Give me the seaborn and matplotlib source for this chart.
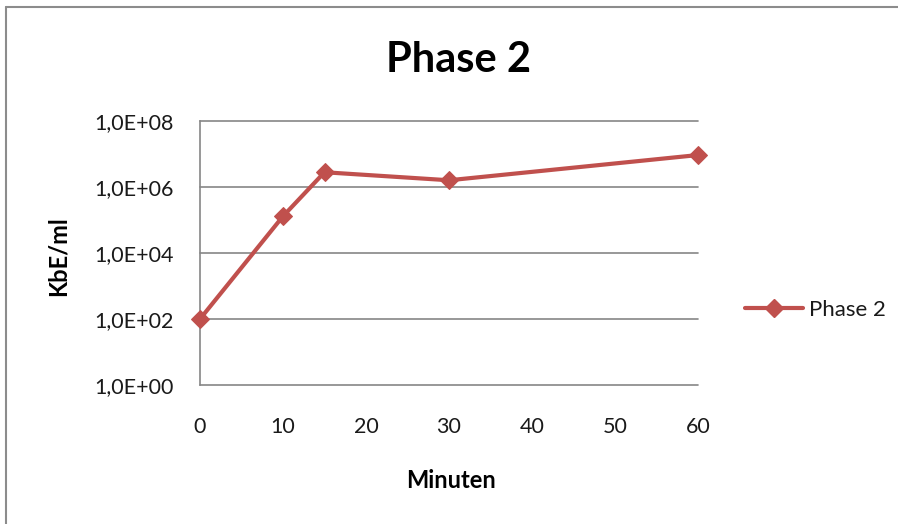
import matplotlib
matplotlib.use("Agg")
import matplotlib.pyplot as plt
import matplotlib.ticker as mticker
from matplotlib.lines import Line2D
import seaborn as sns
import pandas as pd

# Bacterial counts (colony-forming units per ml) over time, phase 2
minutes = [0, 10, 15, 30, 60]
kbe_per_ml = [1.0e2, 1.3e5, 2.8e6, 1.6e6, 9.3e6]
series_name = "Phase 2"
y_ticks = [1e0, 1e2, 1e4, 1e6, 1e8]
x_ticks = [0, 10, 20, 30, 40, 50, 60]

sns.set_style("white")
plt.rcParams["font.family"] = ["Lato", "DejaVu Sans"]
plt.rcParams["text.color"] = "black"
plt.rcParams["axes.labelcolor"] = "black"

RED = "#C0504D"
GRID = "#868686"

df = pd.DataFrame({"Minuten": minutes, "KbE/ml": kbe_per_ml})

fig = plt.figure(figsize=(8.98, 5.24), dpi=100)
ax = fig.add_axes([200 / 898, 1 - 385 / 524, 498 / 898, 264 / 524])

sns.lineplot(data=df, x="Minuten", y="KbE/ml", ax=ax, color=RED, lw=3.0,
             marker="D", markersize=9, markeredgecolor=RED, clip_on=False,
             zorder=5)

ax.set_yscale("log")
ax.set_ylim(1e0, 1e8)
ax.set_xlim(0, 60)
ax.set_yticks(y_ticks)
ax.yaxis.set_minor_locator(mticker.NullLocator())
ax.set_xticks(x_ticks)


def excel_sci(v, _pos):
    s = f"{v:.1E}"
    return s.replace(".", ",")


ax.yaxis.set_major_formatter(mticker.FuncFormatter(excel_sci))
ax.yaxis.grid(True, color=GRID, lw=1.2)
ax.xaxis.grid(False)
for gl in ax.get_ygridlines():
    gl.set_clip_on(False)

for side in ("top", "right", "bottom"):
    ax.spines[side].set_visible(False)
ax.spines["left"].set_color(GRID)
ax.spines["left"].set_linewidth(1.2)

ax.tick_params(axis="y", which="major", length=6, width=1.2, color=GRID,
               labelsize=15.5, labelcolor="#1a1a1a", pad=13)
ax.tick_params(axis="x", which="major", length=0, labelsize=15.5,
               labelcolor="#1a1a1a", pad=23)

ax.set_xlabel("Minuten", fontsize=17, fontweight="bold")
ax.xaxis.set_label_coords(451 / 898, 1 - 480 / 524, transform=fig.transFigure)
ax.xaxis.label.set_va("center")
ax.set_ylabel("KbE/ml", fontsize=17, fontweight="bold")
ax.yaxis.set_label_coords(58 / 898, 1 - 256 / 524, transform=fig.transFigure)
ax.yaxis.label.set_va("center")
fig.suptitle("Phase 2", x=458 / 898, y=1 - 60 / 524, va="center",
             fontsize=30, fontweight="bold", color="black")

handle = Line2D([], [], color=RED, lw=3.0, marker="D", markersize=9)
fig.legend([handle], [series_name], loc="center left",
           bbox_to_anchor=(736 / 898, 1 - 310 / 524), frameon=False,
           fontsize=16, handlelength=2.6, handletextpad=0.3,
           borderaxespad=0, labelcolor="#1a1a1a")

# chart-area border (top and left edges)
fig.add_artist(Line2D([6 / 898, 1.0], [1 - 7 / 524, 1 - 7 / 524],
                      transform=fig.transFigure, color="#8c8c8c", lw=1.5))
fig.add_artist(Line2D([6 / 898, 6 / 898], [0.0, 1 - 7 / 524],
                      transform=fig.transFigure, color="#8c8c8c", lw=1.5))

fig.savefig("out.png", dpi=100, facecolor="white")
